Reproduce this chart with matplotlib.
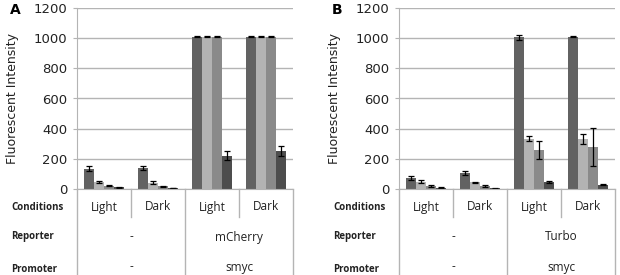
import matplotlib
matplotlib.use('Agg')
import matplotlib.pyplot as plt
import numpy as np

plt.rcParams['font.family'] = ['DejaVu Sans']

# 数据
conditions = ['Light', 'Dark', 'Light', 'Dark']
promoters = ['-', 'smyc']
reporters_a = ['-', 'mCherry']
reporters_b = ['-', 'Turbo']

a_s1 = [135, 139, 1010, 1010]
a_s2 = [46, 43, 1010, 1010]
a_s3 = [21, 19, 1010, 1010]
a_s4 = [11, 7, 222, 252]
a_e1 = [16, 13, 2, 2]
a_e2 = [4, 8, 2, 2]
a_e3 = [4, 3, 2, 2]
a_e4 = [4, 2, 28, 32]

b_s1 = [74, 106, 1006, 1011]
b_s2 = [47, 44, 332, 330]
b_s3 = [19, 19, 258, 278]
b_s4 = [8, 5, 45, 29]
b_e1 = [14, 15, 15, 2]
b_e2 = [10, 4, 17, 34]
b_e3 = [6, 8, 60, 126]
b_e4 = [3, 2, 8, 3]

bar_colors = ['#626262', '#b3b3b3', '#8a8a8a', '#4d4d4d']
grid_c = '#b4b4b4'
tbl_font = ['Open Sans', 'DejaVu Sans']

W, H = 620, 275
fig = plt.figure(figsize=(W / 100, H / 100), dpi=100)


def draw_panel(left_px, letter, vals, errs, reporters):
    plot_top, plot_bot, plot_w = 8, 189, 216
    ax = fig.add_axes([left_px / W, (H - plot_bot) / H, plot_w / W, (plot_bot - plot_top) / H])
    x = np.arange(len(conditions)) + 0.5
    bw = 0.185
    for k in range(4):
        ax.bar(x + (k - 1.5) * bw, vals[k], bw, color=bar_colors[k], zorder=2,
               yerr=errs[k], error_kw=dict(ecolor='black', elinewidth=0.9, capsize=2.5, capthick=0.9))
    ax.set_xlim(0, 4)
    ax.set_ylim(0, 1200)
    ax.set_yticks(range(0, 1201, 200))
    ax.set_xticks([])
    ax.yaxis.grid(True, color=grid_c, lw=1, zorder=0)
    for s in ['top', 'right']:
        ax.spines[s].set_visible(False)
    ax.spines['left'].set_color(grid_c)
    ax.spines['bottom'].set_color(grid_c)
    ax.tick_params(axis='y', length=3, color=grid_c, pad=4, labelsize=9.5, labelcolor='#222222')
    ax.set_ylabel('Fluorescent Intensity', fontsize=9, color='#222222')
    ax.yaxis.set_label_coords(-0.27, 0.5)
    fig.text((left_px - 67) / W, 1 - 10 / H, letter, fontsize=10, fontweight='bold',
             ha='left', va='center')

    # 下方表格
    tb = fig.add_axes([left_px / W, 0, plot_w / W, (H - plot_bot) / H])
    tb.set_xlim(0, 4)
    tb.set_ylim(H - plot_bot, 0)
    tb.axis('off')
    for xv in [0, 2, 4]:
        tb.plot([xv, xv], [0, H - plot_bot], color=grid_c, lw=1, clip_on=False)
    for xv in [1, 3]:
        tb.plot([xv, xv], [0, 28], color=grid_c, lw=1, clip_on=False)
    for i, c in enumerate(conditions):
        tb.text(i + 0.5, 18, c, ha='center', va='center', fontsize=8.5, color='#222222',
                family=tbl_font)
    for i in range(2):
        tb.text(2 * i + 1, 48, reporters[i], ha='center', va='center', fontsize=8.5,
                color='#222222', family=tbl_font)
        tb.text(2 * i + 1, 78, promoters[i], ha='center', va='center', fontsize=8.5,
                color='#222222', family=tbl_font)
    lx = -66 / 54
    for lab, yy in [('Conditions', 18), ('Reporter', 48), ('Promoter', 80)]:
        tb.text(lx, yy, lab, ha='left', va='center', fontsize=7, fontweight='bold',
                color='#222222', clip_on=False, family=tbl_font)


draw_panel(77, 'A', [a_s1, a_s2, a_s3, a_s4], [a_e1, a_e2, a_e3, a_e4], reporters_a)
draw_panel(399, 'B', [b_s1, b_s2, b_s3, b_s4], [b_e1, b_e2, b_e3, b_e4], reporters_b)

fig.savefig('out.png', dpi=100)
